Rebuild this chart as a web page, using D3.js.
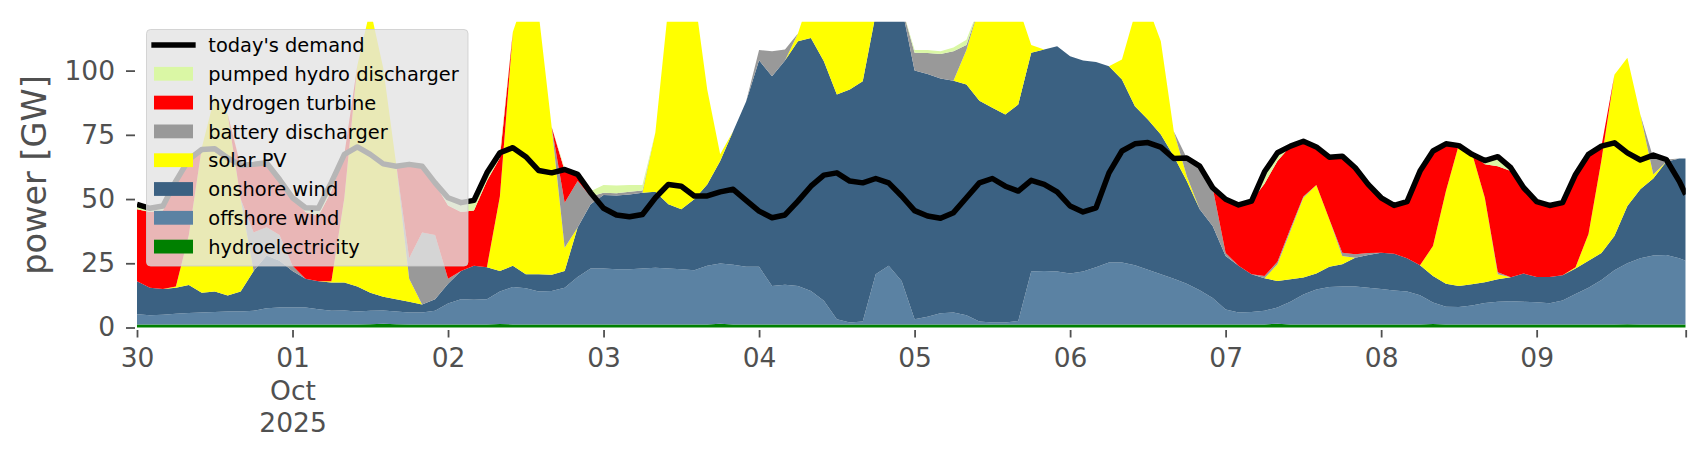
<!DOCTYPE html>
<html><head><meta charset="utf-8">
<script src="https://cdn.jsdelivr.net/npm/d3@7"></script>
<style>
html,body{margin:0;padding:0;background:#fff;}
svg{display:block;font-family:"DejaVu Sans",sans-serif;}
</style></head><body>
<svg id="chart" width="1706" height="460"></svg>
<script>
// hours after 2025-09-30 00:00 (2-hourly samples + final hour)
const hours = d3.range(0, 240, 2).concat([239]);

const hydro = [
1.2,1.2,1.2,1.2,1.2,1.2,1.2,1.2,1.2,1.2,
1.2,1.2,1.2,1.2,1.2,1.2,1.2,1.2,1.3,1.5,
1.3,1.2,1.2,1.2,1.2,1.2,1.2,1.2,1.4,1.2,
1.2,1.2,1.2,1.2,1.2,1.2,1.2,1.2,1.2,1.2,
1.2,1.2,1.2,1.2,1.2,1.5,1.2,1.2,1.2,1.2,
1.2,1.2,1.2,1.2,1.2,1.2,1.2,1.2,1.2,1.2,
1.2,1.2,1.2,1.2,1.2,1.2,1.2,1.2,1.2,1.2,
1.2,1.2,1.2,1.2,1.2,1.2,1.2,1.2,1.2,1.2,
1.2,1.2,1.2,1.2,1.2,1.2,1.2,1.2,1.5,1.2,
1.2,1.2,1.2,1.2,1.2,1.2,1.2,1.2,1.2,1.2,
1.4,1.2,1.2,1.2,1.2,1.2,1.2,1.2,1.2,1.2,
1.2,1.2,1.2,1.2,1.2,1.3,1.2,1.2,1.2,1.2,
1.2];

const offshore = [
4.0,3.6,3.8,4.2,4.4,4.6,4.8,5.0,5.0,5.3,
6.3,6.6,6.6,6.6,5.9,5.3,5.4,5.0,5.2,5.1,
4.9,4.6,4.6,5.3,8.1,9.8,9.6,9.8,12.6,14.6,
14.1,12.8,13.0,14.3,18.5,21.8,21.8,21.5,21.5,21.8,
22.1,21.8,21.5,21.1,22.8,23.4,23.2,22.4,22.4,15.0,
15.4,15.0,13.0,9.2,2.0,0.7,1.1,19.5,22.8,16.9,
2.0,3.0,4.3,4.6,3.6,1.1,0.7,0.7,1.3,20.6,
20.8,20.6,19.8,20.6,22.3,24.1,24.1,23.0,21.3,19.5,
17.8,15.8,13.3,10.3,5.8,4.6,4.8,5.3,6.3,8.8,
11.6,13.6,14.6,14.8,14.8,14.3,13.8,13.2,12.8,11.4,
8.3,6.9,6.8,7.4,8.3,8.8,9.0,8.8,8.6,8.2,
9.3,11.8,14.3,17.3,21.1,23.7,25.8,26.8,27.0,25.8,
24.8];

const onshore = [
12.8,10.7,10.0,10.1,10.9,7.7,8.0,6.3,7.8,15.5,
20.5,18.2,14.2,11.2,10.9,11.0,10.9,9.8,7.0,5.4,
4.8,4.2,3.2,4.5,7.7,11.0,13.2,12.5,8.0,8.2,
5.4,6.7,6.3,6.5,19.2,25.0,28.6,28.7,29.1,29.5,
29.5,25.0,23.3,27.6,31.7,39.9,52.0,64.4,80.4,81.6,
87.3,95.2,98.5,93.2,87.5,90.7,93.6,101.3,104.0,106.9,
96.8,94.5,91.4,90.3,89.8,86.0,83.6,81.0,84.3,85.2,
86.2,87.7,84.6,82.1,79.9,76.4,71.2,61.9,58.5,54.4,
47.7,40.0,31.5,28.0,20.8,18.2,14.7,12.7,10.3,8.8,
6.7,6.2,7.8,8.6,11.2,12.7,14.1,14.3,13.0,11.6,
10.3,8.9,8.2,8.2,8.1,8.8,9.4,11.0,9.9,10.3,
9.8,10.0,10.5,10.5,13.3,22.3,26.8,30.0,36.3,38.8,
39.8];

const solar = [
0,0,0,0.5,19.5,56.5,76.0,70.5,36.0,0,
0,0,0,0,0,0.5,33.0,86.0,110.5,89.0,
52.5,9.0,0,0,0,0,0,0,29.0,91.0,
109.3,101.3,57.5,9.0,0,0,0,0,0,0,
23.2,77.0,89.0,80.1,36.9,2.6,0,0,0,0,
0,3.0,17.3,31.4,39.3,32.4,26.0,2.0,0,0,
0,0,0,0,13.4,36.7,42.5,47.1,38.2,3.0,
0,0,0,0,0,0,7.8,35.9,44.0,36.3,
9.7,2.0,0,0,0,0,0,0,6.5,18.8,
31.0,34.5,18.5,3.2,0,0,0,0,0,0,
11.7,36.1,55.0,51.2,32.9,1.9,0,0,0,0,
0,0.5,10.4,36.2,62.8,57.7,29.1,1.6,0,0,
0];

const battery = [
0,0,0,0,0,0,0,0,0,15.0,
11.0,10.0,2.0,0,0,0,0,0,0,0,
0,8.0,28.0,25.0,2.0,0,0,0,0,0,
0,0,0,17.6,18.1,3.0,0.9,0.9,1.0,0.8,
0,0,0,0,0,0,0,0,4.0,9.7,
4.3,0,0,0,0,0,0,0,0,0,
7.0,8.2,9.6,11.4,2.0,0,0,0,0,0,
0,0,0,0,0,0,0,0,0,0,
0,7.0,16.8,14.9,1.2,0,0,0.8,1.0,0.9,
0.5,0,0,1.3,1.3,0.8,0,0,0,0,
0,0,0,0,0,0.8,0,0,0,0,
0,0,0,0,0,0,0,6.4,0.9,0,
0];

const hydrogen = [
28.0,29.5,30.5,39.5,28.5,0,0,0,13.0,26.5,
25.0,21.5,26.5,26.0,25.5,35.0,16.9,0,0,0,
0,36.5,25.8,20.0,28.5,23.0,21.5,33.5,15.0,0,
0,0,0,12.4,3.0,0,0,0,0,0,
0,0,0,0,0,0,0,0,0,0,
0,0,0,0,0,0,0,0,0,0,
0,0,0,0,0,0,0,0,0,0,
0,0,0,0,0,0,0,0,0,0,
0,0,0,0,20.9,23.7,28.5,36.0,39.2,32.1,
21.5,14.8,24.2,37.6,33.7,26.7,21.4,18.8,22.0,36.7,
37.0,18.4,0,0,13.0,41.3,41.3,33.4,29.3,27.8,
28.3,36.1,31.0,5.4,0,0,0,0,0,0,
0];

const pumped = [
2.0,1.5,1.5,1.5,0.9,0,0,0,0.2,0,
0,0.1,0,1.6,2.9,3.5,0,0,0,0,
0,0,0,0.3,3.0,3.6,4.0,3.2,2.0,0,
0,0,0,0.9,0.2,2.0,3.0,3.0,2.7,2.2,
0,0,0,0,0,0,0,0,0,0,
0,0,0,0,0,0,0,0,0,0,
1.0,1.1,1.0,1.5,2.0,0,0,0,0,0,
0,0,0,0,0,0,0,0,0,0,
0,0,0,0,0,0,0,4.6,3.2,0,
0,0,0.2,0,0,0,0,0,0,0,
0,0,0,0,1.5,3.7,1.3,0,0,0,
0,0,0,0,0,0,0,0,0,0,
0];

const demand = [
47.9,46.4,47.3,57.0,65.4,69.3,69.6,66.0,63.2,63.5,
64.1,57.6,50.5,46.6,46.4,56.5,67.4,70.3,67.4,63.7,
62.8,63.5,62.8,56.3,50.5,48.6,49.5,60.2,68.0,70.0,
66.5,61.1,60.2,61.5,59.6,52.5,46.4,43.8,43.1,44.0,
50.5,55.7,55.0,51.2,51.2,52.8,53.8,49.5,45.3,42.7,
43.8,49.2,55.0,59.3,60.2,57.0,56.3,58.0,56.3,51.2,
45.5,43.4,42.5,44.7,50.5,56.3,58.0,55.0,53.1,57.3,
55.7,52.8,47.3,45.0,46.6,60.2,68.7,71.5,72.0,70.2,
65.8,66.0,62.8,54.4,49.9,47.7,49.2,60.6,68.0,70.6,
72.5,70.3,66.3,66.7,62.2,55.7,50.5,47.5,49.0,60.9,
68.7,71.5,70.8,67.4,65.0,66.5,62.2,54.4,49.0,47.5,
48.6,59.6,67.4,70.6,71.9,68.0,65.2,67.1,65.4,57.0,
51.8];

const seriesKeys   = ["hydro","offshore","onshore","solar","battery","hydrogen","pumped"];
const seriesNames  = ["hydroelectricity","offshore wind","onshore wind","solar PV","battery discharger","hydrogen turbine","pumped hydro discharger"];
const seriesColors = ["#008000","#5b82a3","#3b6182","#ffff00","#999999","#ff0000","#daf7a5"];
const demandName = "today's demand";
const yTicks = [0, 25, 50, 75, 100];
const monthLabel = "Oct";
const yearLabel = "2025";
const yLabel = "power [GW]";

const seriesData = {hydro, offshore, onshore, solar, battery, hydrogen, pumped};
const t0 = Date.UTC(2025, 8, 30, 0);
const times = hours.map(h => new Date(t0 + h * 3600e3));
const rows = times.map((t, i) => {
  const r = {t};
  seriesKeys.forEach(k => r[k] = seriesData[k][i]);
  return r;
});

const svg = d3.select("#chart");
const L = 137, R = 1685.7, T = 21.8, B = 327.5;

const x = d3.scaleUtc().domain([times[0], times[times.length - 1]]).range([L, R]);
const y = d3.scaleLinear().domain([0, 119]).range([B, T]);

svg.append("defs").append("clipPath").attr("id", "clip")
  .append("rect").attr("x", L).attr("y", T).attr("width", R - L).attr("height", B - T + 2);

const stacked = d3.stack().keys(seriesKeys)(rows);
const area = d3.area().x(d => x(d.data.t)).y0(d => y(d[0])).y1(d => y(d[1]));

const plot = svg.append("g").attr("clip-path", "url(#clip)");
plot.selectAll("path.layer").data(stacked).join("path")
  .attr("class", "layer")
  .attr("fill", (d, i) => seriesColors[i])
  .attr("d", area);

const line = d3.line().x((d, i) => x(times[i])).y(d => y(d));
plot.append("path").datum(demand)
  .attr("fill", "none").attr("stroke", "#000").attr("stroke-width", 5.5)
  .attr("stroke-linejoin", "round").attr("d", line);

// Y axis
const yAxis = d3.axisLeft(y).tickValues(yTicks).tickSize(9).tickPadding(11);
const gy = svg.append("g").attr("transform", "translate(135,0)").call(yAxis);
gy.select(".domain").remove();
gy.selectAll(".tick line").attr("stroke", "#505050").attr("stroke-width", 1.8);
gy.selectAll(".tick text").attr("fill", "#505050").style("font-size", "26.5px")
  .style("font-family", "DejaVu Sans, sans-serif");

// X axis
const dayTicks = d3.utcDay.range(new Date(t0), new Date(Date.UTC(2025, 9, 10)));
const xTickVals = dayTicks.concat([times[times.length - 1]]);
const fmt = d3.utcFormat("%d");
const xAxis = d3.axisBottom(x).tickValues(xTickVals).tickSize(7.5).tickPadding(10.7)
  .tickFormat((d, i) => i < dayTicks.length ? fmt(d) : "");
const gx = svg.append("g").attr("transform", `translate(0,${B + 2.5})`).call(xAxis);
gx.select(".domain").remove();
gx.selectAll(".tick line").attr("stroke", "#505050").attr("stroke-width", 1.8);
gx.selectAll(".tick text").attr("fill", "#505050").style("font-size", "26.5px")
  .style("font-family", "DejaVu Sans, sans-serif");
gx.selectAll(".tick text").each(function(d) {
  if (+d === Date.UTC(2025, 9, 1)) {
    const el = d3.select(this);
    const first = el.text();
    el.text(null);
    el.append("tspan").attr("x", 0).text(first);
    el.append("tspan").attr("x", 0).attr("dy", "1.24em").text(monthLabel);
    el.append("tspan").attr("x", 0).attr("dy", "1.2em").text(yearLabel);
  }
});

// Y label
svg.append("text")
  .attr("transform", "translate(46,175) rotate(-90)")
  .attr("text-anchor", "middle").attr("fill", "#505050")
  .style("font-size", "33.5px").text(yLabel);

// Legend
const lg = svg.append("g");
lg.append("rect").attr("x", 146.5).attr("y", 29.5).attr("width", 321.5).attr("height", 236.5)
  .attr("rx", 4).attr("fill", "#e4e4e4").attr("fill-opacity", 0.8)
  .attr("stroke", "#cccccc").attr("stroke-opacity", 0.8).attr("stroke-width", 1);
const legendItems = [{name: demandName, type: "line", color: "#000"}];
for (let i = seriesKeys.length - 1; i >= 0; i--) legendItems.push({name: seriesNames[i], type: "patch", color: seriesColors[i]});
legendItems.forEach((it, i) => {
  const cy = 45 + i * 28.8;
  if (it.type === "line") {
    lg.append("line").attr("x1", 154).attr("x2", 193).attr("y1", cy).attr("y2", cy)
      .attr("stroke", it.color).attr("stroke-width", 5.3).attr("stroke-linecap", "square");
  } else {
    lg.append("rect").attr("x", 154).attr("y", cy - 6.9).attr("width", 39).attr("height", 13.8)
      .attr("fill", it.color);
  }
  lg.append("text").attr("x", 208.3).attr("y", cy + 7.2).attr("fill", "#000")
    .style("font-size", "19.4px").text(it.name);
});
</script>
</body></html>
